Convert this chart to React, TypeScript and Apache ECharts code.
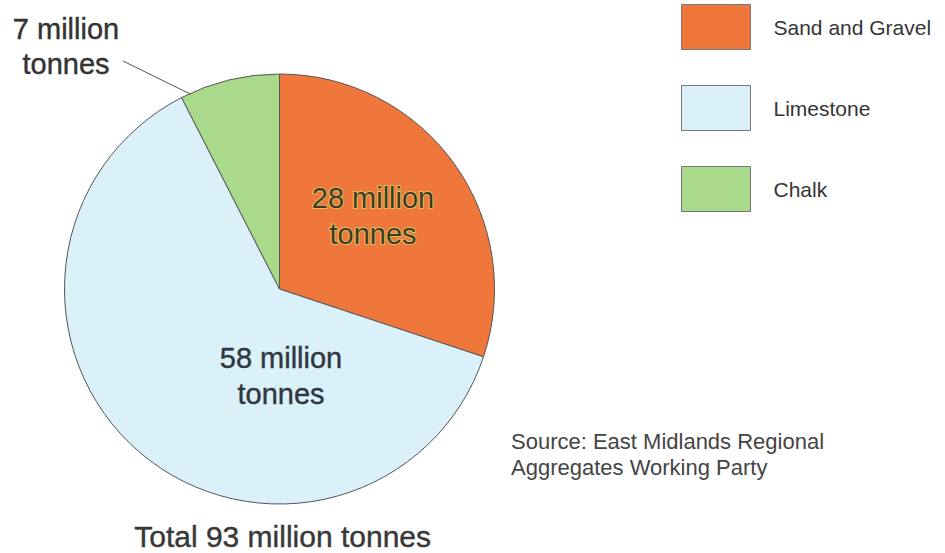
import React, { useEffect, useRef } from "react";
import * as echarts from "echarts";

const categories = ["Sand and Gravel", "Limestone", "Chalk"];
const values = [28, 58, 7];
const colors = ["#f0773b", "#dbf1fa", "#a9d98b"];
const unit = "million";
const unit2 = "tonnes";
const sourceLines = ["Source: East Midlands Regional", "Aggregates Working Party"];

const FONT = "'Liberation Sans', Arial, Helvetica, sans-serif";
const LABEL_POS: number[][] = [
  [373, 216],
  [281, 376],
  [66, 46],
];

export default function App() {
  const ref = useRef<HTMLDivElement>(null);
  useEffect(() => {
    if (!ref.current) return;
    const chart = echarts.init(ref.current, null, { renderer: "svg" });
    const total = values.reduce((a, b) => a + b, 0);
    chart.setOption({
      animation: false,
      backgroundColor: "#ffffff",
      legend: {
        orient: "vertical",
        left: 681,
        top: 4,
        padding: 0,
        itemWidth: 69,
        itemHeight: 45,
        itemGap: 35,
        icon: "rect",
        selectedMode: false,
        data: categories,
        textStyle: {
          fontFamily: FONT,
          fontSize: 21,
          color: "#353535",
          padding: [0, 0, 0, 18],
        },
        itemStyle: { borderColor: "#777", borderWidth: 1 },
      },
      series: [
        {
          type: "pie",
          center: [279.5, 289],
          radius: 215,
          startAngle: 90,
          clockwise: true,
          avoidLabelOverlap: false,
          itemStyle: { borderColor: "#555", borderWidth: 1 },
          emphasis: { disabled: true },
          label: {
            show: true,
            position: "inside",
            fontFamily: FONT,
            fontSize: 29,
            lineHeight: 36,
            color: "#2f3740",
            textBorderColor: "#2f3740",
            textBorderWidth: 0.4,
            formatter: (p: any) => `${p.value} ${unit}\n${unit2}`,
          },
          labelLine: { show: false },
          labelLayout: (params: any) => {
            const i = params.dataIndex;
            const pos = LABEL_POS[i];
            const res: any = {
              x: pos[0],
              y: pos[1],
              align: "center",
              verticalAlign: "middle",
            };
            if (i === 2) {
              res.labelLinePoints = [
                [237, 117],
                [180, 89],
                [123, 61],
              ];
            }
            return res;
          },
          data: categories.map((name, i) => {
            const item: any = {
              name,
              value: values[i],
              itemStyle: { color: colors[i] },
            };
            if (i === 0) {
              item.label = {
                color: "#3d3a26",
                textBorderColor: "rgba(225,205,95,0.85)",
                textBorderWidth: 2,
              };
            }
            if (i === 2) {
              item.label = {
                position: "outside",
                color: "#333333",
                textBorderColor: "#333333",
                textBorderWidth: 0.4,
                lineHeight: 35,
              };
              item.labelLine = {
                show: true,
                length: 20,
                length2: 20,
                lineStyle: { color: "#555", width: 1 },
              };
            }
            return item;
          }),
        },
      ],
      graphic: [
        {
          type: "text",
          left: 134,
          top: 521,
          style: {
            text: `Total ${total} ${unit} ${unit2}`,
            fontFamily: FONT,
            fontSize: 30,
            fill: "#383838",
            stroke: "#383838",
            lineWidth: 0.4,
          },
        },
        {
          type: "text",
          left: 511,
          top: 428,
          style: {
            text: sourceLines.join("\n"),
            fontFamily: FONT,
            fontSize: 22,
            lineHeight: 26,
            fill: "#444444",
          },
        },
      ],
    });
    return () => chart.dispose();
  }, []);
  return (
    <div
      ref={ref}
      style={{ position: "fixed", left: 0, top: 0, width: 945, height: 553 }}
    />
  );
}
